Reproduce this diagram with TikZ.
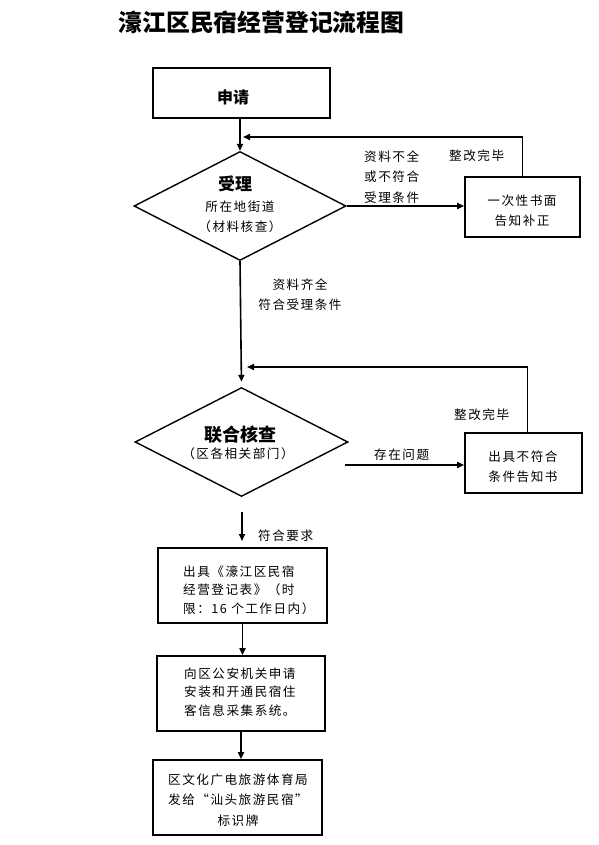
\documentclass[tikz,border=0pt]{standalone}
\usepackage{fontspec}
\setmainfont{Noto Sans CJK SC}
\newfontfamily\cjksp[LetterSpace=12]{Noto Sans CJK SC}
\usetikzlibrary{shapes.geometric,arrows.meta}
\begin{document}
\begin{tikzpicture}[x=1pt,y=-1pt,
  box/.style={draw,line width=1.6pt,inner sep=0pt},
  dia/.style={draw,line width=1.4pt,diamond,inner sep=0pt},
  txt/.style={font=\cjksp\fontsize{12.6}{18.5}\selectfont,inner sep=0pt,align=left},
  ctxt/.style={font=\cjksp\fontsize{12.6}{20}\selectfont,inner sep=0pt,align=center},
  btxt/.style={font=\bfseries\fontsize{17}{18}\selectfont,inner sep=0pt},
  arr/.style={line width=1.6pt,-{Triangle[length=7pt,width=6pt]}},
  ln/.style={line width=1.6pt}]
\useasboundingbox (0,0) rectangle (598,845);
% title
\node[font=\bfseries\fontsize{23.8}{26}\selectfont,inner sep=0pt] (title) at (261.5,22) {濠江区民宿经营登记流程图};
% boxes
\node[box,minimum width=177,minimum height=50] (apply) at (241.5,93) {};
\node[btxt,font=\bfseries\fontsize{16}{18}\selectfont] (applyt) at (233,97) {申请};
\node[dia,minimum width=212,minimum height=109] (d1) at (240,206) {};
\node[btxt] (d1t) at (235,184) {受理};
\node[ctxt] (d1s) at (240,217) {所在地街道\\（材料核查）};
\node[box,minimum width=115,minimum height=60] (fix1) at (522.5,207) {};
\node[ctxt] (fix1t) at (522,211) {一次性书面\\告知补正};
\node[dia,minimum width=213,minimum height=109] (d2) at (241.5,442) {};
\node[btxt,font=\bfseries\fontsize{18}{18}\selectfont] (d2t) at (240,435) {联合核查};
\node[ctxt] (d2s) at (238,454) {（区各相关部门）};
\node[box,minimum width=117,minimum height=60] (fix2) at (523.5,463) {};
\node[ctxt] (fix2t) at (523,467) {出具不符合\\条件告知书};
\node[box,minimum width=169,minimum height=75] (b3) at (242.5,585.5) {};
\node[txt,anchor=west] (b3t) at (183,590) {出具《濠江区民宿\\经营登记表》（时\\限：16 个工作日内）};
\node[box,minimum width=168,minimum height=75] (b4) at (241,693.5) {};
\node[txt,anchor=west] (b4t) at (184,692) {向区公安机关申请\\安装和开通民宿住\\客信息采集系统。};
\node[box,minimum width=169,minimum height=75] (b5) at (237.5,797.5) {};
\node[ctxt,font=\cjksp\fontsize{12.6}{20.5}\selectfont] (b5t) at (238,800) {区文化广电旅游体育局\\发给“汕头旅游民宿”\\标识牌};
% labels
\node[txt,anchor=west,font=\cjksp\fontsize{12.6}{20.5}\selectfont] (l1) at (364,177) {资料不全\\或不符合\\受理条件};
\node[txt,anchor=west] (l2) at (449,156) {整改完毕};
\node[ctxt,font=\cjksp\fontsize{12.6}{20}\selectfont] (l3) at (300,295) {资料齐全\\符合受理条件};
\node[txt,anchor=west] (l4) at (454,415) {整改完毕};
\node[txt,anchor=west] (l5) at (374,455) {存在问题};
\node[txt,anchor=west] (l6) at (258,536) {符合要求};
% connectors
\coordinate (fb1) at (243,137);
\coordinate (fb2) at (247,367);
\coordinate (s2) at (345,465);
\coordinate (a3s) at (242,512);
\coordinate (a3e) at (242,541);
\draw[arr] (apply.south -| d1.north) -- (d1.north);
\draw[arr] (fix1.north) |- (fb1);
\draw[arr] (d1.east) -- (d1.east -| fix1.west);
\draw[arr,shorten >=5pt] (d1.south) -- (d2.north);
\draw[arr] ([xshift=4pt]fix2.north) |- (fb2);
\draw[arr] (s2) -- (s2 -| fix2.west);
\draw[arr] (a3s) -- (a3e);
\draw[arr] (b3.south) -- (b3.south |- b4.north);
\draw[arr] (b4.south) -- (b4.south |- b5.north);
\end{tikzpicture}
\end{document}
